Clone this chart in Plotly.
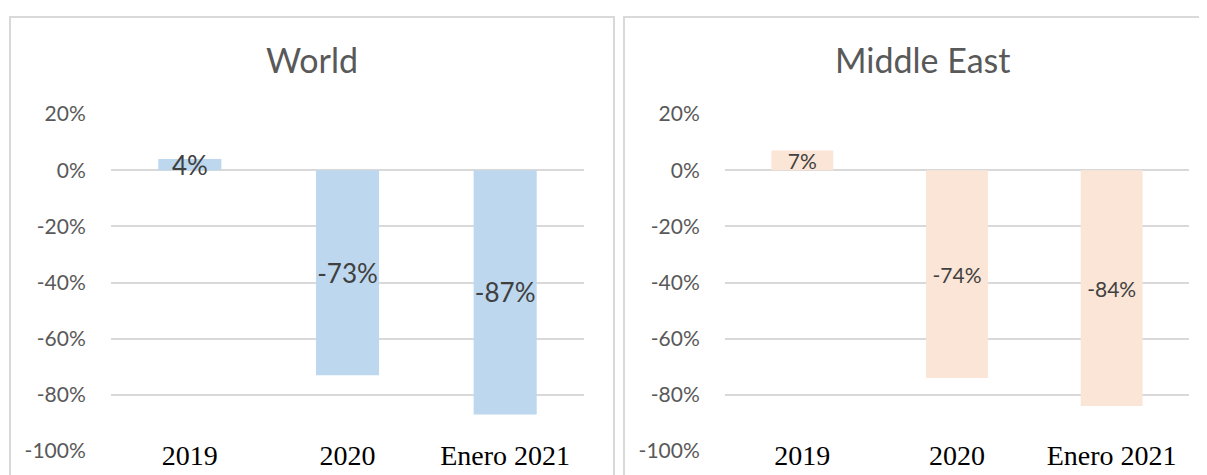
import plotly.graph_objects as go
from plotly.subplots import make_subplots

categories = ["2019", "2020", "Enero 2021"]
world = [0.04, -0.73, -0.87]
middle_east = [0.07, -0.74, -0.84]
titles = ["World", "Middle East"]
y_ticks = [0.2, 0, -0.2, -0.4, -0.6, -0.8, -1.0]
y_tick_text = [f"{round(v * 100)}%" for v in y_ticks]

W, H = 1207, 475
OFF = 8  # the page body margin shifts the figure by 8px


def px_x(p):
    return (p - OFF) / W


def px_y(p):
    return 1 - (p - OFF) / H


_GRID = "#D9D9D9"
_LABEL = "#595959"
_SANS = "Lato, Open Sans, sans-serif"
_SERIF = "Liberation Serif, Times New Roman, serif"

fig = make_subplots(rows=1, cols=2)

fig.add_trace(
    go.Bar(
        x=categories, y=world, marker_color="#BDD7EE",
        text=[f"{round(v * 100)}%" for v in world], textposition="inside",
        insidetextanchor="middle", constraintext="none", textangle=0, cliponaxis=False,
        textfont=dict(family=_SANS, size=26, color="#404040"),
    ),
    row=1, col=1,
)
fig.add_trace(
    go.Bar(
        x=categories, y=middle_east, marker_color="#FBE5D6",
        text=[f"{round(v * 100)}%" for v in middle_east], textposition="inside",
        insidetextanchor="middle", constraintext="none", textangle=0, cliponaxis=False,
        textfont=dict(family=_SANS, size=21, color="#404040"),
    ),
    row=1, col=2,
)

# chart frames
fig.add_shape(type="rect", xref="paper", yref="paper", x0=px_x(10), x1=px_x(614),
              y0=-0.1, y1=px_y(17), line=dict(color="#D9D9D9", width=2))
fig.add_shape(type="rect", xref="paper", yref="paper", x0=px_x(624), x1=1.05,
              y0=-0.1, y1=px_y(17), line=dict(color="#D9D9D9", width=2))

for title, cx in zip(titles, [312, 922]):
    fig.add_annotation(x=px_x(cx), y=px_y(60), xref="paper", yref="paper", text=title,
                       showarrow=False, xanchor="center", yanchor="middle",
                       font=dict(family=_SANS, size=34, color=_LABEL))

# category names sit on the -100% line, in a serif face
fig.update_xaxes(
    type="category", range=[-0.5, 2.5], showgrid=False, zeroline=False, showline=False,
    automargin=False, anchor="free", position=px_y(436), ticks="",
    tickfont=dict(family=_SERIF, size=28, color="#000000"),
)
fig.update_xaxes(domain=[px_x(111), px_x(584)], row=1, col=1)
fig.update_xaxes(domain=[px_x(725), px_x(1189)], row=1, col=2)
fig.update_yaxes(
    range=[-1.0, 0.2], tickvals=y_ticks, ticktext=y_tick_text, automargin=False,
    domain=[px_y(451), px_y(114)],
    showgrid=True, gridcolor=_GRID, gridwidth=1.5, zeroline=True, zerolinecolor=_GRID,
    zerolinewidth=1.5, showline=False,
    ticks="outside", ticklen=20, tickcolor="rgba(0,0,0,0)",
    tickfont=dict(family=_SANS, size=21, color=_LABEL),
)

fig.update_layout(
    template="none",
    width=W, height=H,
    margin=dict(l=0, r=0, t=0, b=0, pad=0),
    paper_bgcolor="white", plot_bgcolor="white",
    showlegend=False, bargap=0.6,
)
fig.write_html("out.html")
